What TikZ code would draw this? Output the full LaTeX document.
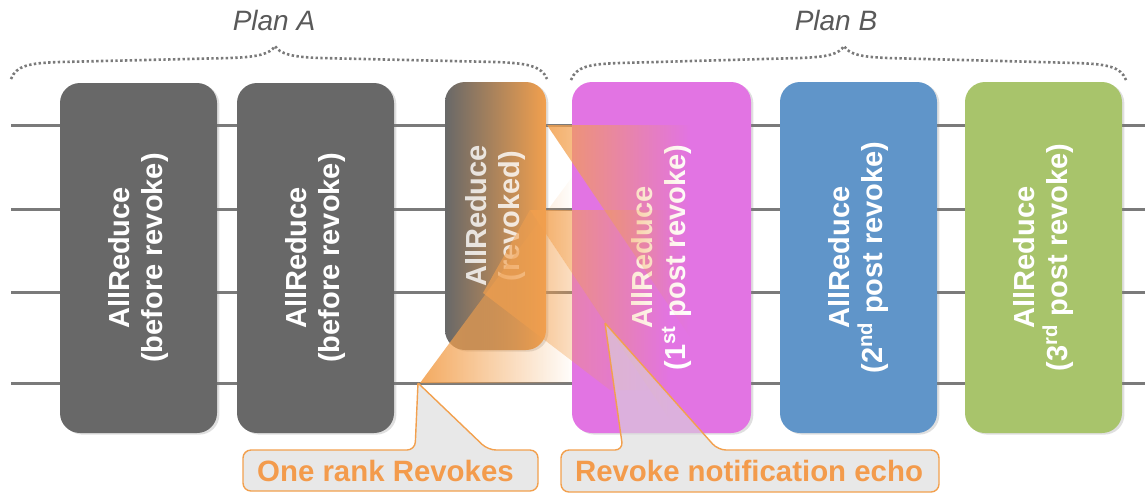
\documentclass[tikz,border=0pt]{standalone}
\usepackage{fontspec}
\setmainfont{Liberation Sans}
\usetikzlibrary{shadows,fadings}
\definecolor{boxgray}{HTML}{686868}
\definecolor{pinkbox}{HTML}{E274E3}
\definecolor{bluebox}{HTML}{6095C9}
\definecolor{greenbox}{HTML}{A8C46B}
\definecolor{orng}{HTML}{F2A04E}
\definecolor{orngtxt}{HTML}{F39B4C}
\definecolor{lineg}{HTML}{7A7A7A}
\definecolor{calfill}{HTML}{D9D9D9}
\definecolor{plang}{HTML}{595959}
\tikzfading[name=fadeR, left color=transparent!0, right color=transparent!100]
\begin{document}
\begin{tikzpicture}[x=0.5pt,y=-0.5pt,
  rankline/.style={lineg, line width=1.5pt},
  boxtext/.style={text=white, align=center, inner sep=0pt,
    font=\bfseries\fontsize{14.5}{16.5}\selectfont},
  opbox/.style 2 args={boxtext, rotate=90, rounded corners=10pt,
    minimum width=#1, minimum height=#2,
    drop shadow={opacity=0.25, shadow xshift=1.2pt, shadow yshift=-0.8pt}},
  plantext/.style={text=plang, font=\itshape\fontsize{14}{16}\selectfont},
  brace/.style={lineg, line width=1.3pt, dash pattern=on 1.2pt off 1.2pt},
  echo/.style={fill=orng, path fading=fadeR},
  callout/.style={draw=orng, line width=0.7pt, fill=calfill, fill opacity=0.6, rounded corners=4pt},
  calltext/.style={text=orngtxt, font=\bfseries\fontsize{14.7}{16}\selectfont}
]
\useasboundingbox (0,0) rectangle (1145,495);

% rank lines
\foreach \i/\yy in {1/125,2/209,3/292,4/383}{
  \coordinate (la\i) at (11,\yy);
  \coordinate (lb\i) at (1145,\yy);
  \draw[rankline] (la\i) -- (lb\i);
}

% operation boxes
\node[opbox={175pt}{78.5pt}, fill=boxgray] (b1) at (138.5,258) {AllReduce\\(before revoke)};
\node[opbox={175pt}{78.5pt}, fill=boxgray] (b2) at (315.5,258) {AllReduce\\(before revoke)};
\shade[rounded corners=10pt, left color=boxgray, right color=orng,
  drop shadow={opacity=0.25, shadow xshift=1.2pt, shadow yshift=-0.8pt}] (445,82) rectangle (546,350);
\node[boxtext, rotate=90, text opacity=0.8] (b3) at (495.5,216) {AllReduce\\(revoked)};
\node[opbox={175.5pt}{89.5pt}, fill=pinkbox] (b4) at (661.5,257.5) {AllReduce\\(1\textsuperscript{st} post revoke)};
\node[opbox={175.5pt}{78.5pt}, fill=bluebox] (b5) at (858.5,257.5) {AllReduce\\(2\textsuperscript{nd} post revoke)};
\node[opbox={175.5pt}{78.5pt}, fill=greenbox] (b6) at (1043.5,257.5) {AllReduce\\(3\textsuperscript{rd} post revoke)};

% revoke propagation / echo wedges
\fill[echo, fill opacity=0.9] (420,383) -- (575,173) -- (575,383) -- cycle;
\fill[echo, fill opacity=0.85] (547,125) -- (690,125) -- (690,337) -- cycle;
\fill[echo, fill opacity=0.85] (530,210) -- (670,210) -- (670,420) -- cycle;
\fill[echo, fill opacity=0.7] (483,293) -- (530,210) -- (650,390) -- (610,390) -- cycle;

% plan labels and braces
\node[plantext] (pa) at (274,20) {Plan A};
\node[plantext] (pb) at (836,20) {Plan B};
\draw[brace] (11,79) .. controls (16,66) and (28,63) .. (60,62) -- (230,58)
  .. controls (258,57) and (270,54) .. (275,46)
  .. controls (280,54) and (292,57) .. (320,58) -- (495,62)
  .. controls (527,63) and (542,66) .. (547,79);
\draw[brace] (571,80) .. controls (576,67) and (588,64) .. (620,63) -- (800,58)
  .. controls (828,57) and (839,54) .. (844,46)
  .. controls (849,54) and (860,57) .. (888,58) -- (1076,63)
  .. controls (1108,64) and (1121,67) .. (1126,80);

% callouts
\coordinate (t1) at (418,383);
\coordinate (t2) at (605,323);
\filldraw[callout] (t1) -- (488,450) -- (538,450) -- (538,491) -- (243,491) -- (243,450) -- (415,450) -- (t1);
\filldraw[callout] (t2) -- (718,450) -- (939,450) -- (939,492) -- (561,492) -- (561,450) -- (623,450) -- (t2);
\node[calltext] (c1) at (385.5,471) {One rank Revokes};
\node[calltext] (c2) at (749,471) {Revoke notification echo};
\end{tikzpicture}
\end{document}
